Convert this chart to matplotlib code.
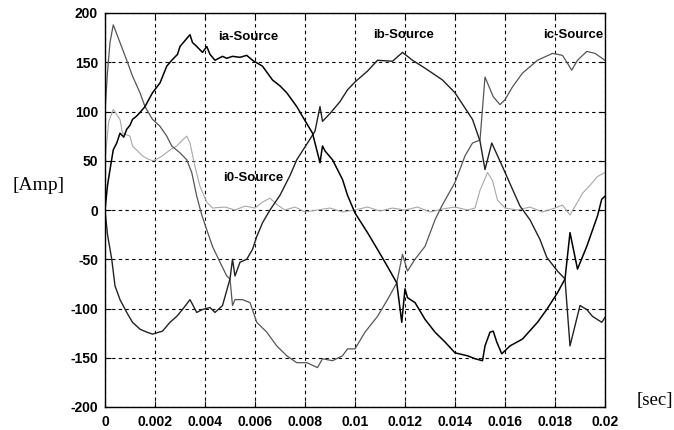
import matplotlib
matplotlib.use("Agg")
import matplotlib.pyplot as plt

plt.rcParams["axes.unicode_minus"] = False

# ---- data ----
t_ia = [0, 0.0001, 0.0002, 0.00033, 0.00047, 0.0006, 0.00075, 0.00087, 0.001, 0.0011, 0.00125, 0.0014, 0.0016,
        0.0019, 0.0022, 0.00247, 0.00267, 0.0029, 0.003, 0.0032, 0.0034, 0.0035, 0.00367, 0.0039, 0.00407,
        0.0042, 0.0044, 0.0047, 0.00487, 0.0051, 0.0054, 0.00567, 0.0059, 0.0063, 0.0067, 0.0070, 0.00727,
        0.00767, 0.0079, 0.0083, 0.0086, 0.0087, 0.0088, 0.0091, 0.0095, 0.0097, 0.0100, 0.0105, 0.0109,
        0.0112, 0.01167, 0.01187, 0.0120, 0.0121, 0.0124, 0.0128, 0.0132, 0.0136, 0.0140, 0.0145, 0.0148,
        0.0151, 0.0152, 0.0154, 0.01553, 0.01567, 0.01587, 0.0162, 0.0167, 0.0173, 0.01767, 0.0181, 0.0184,
        0.0186, 0.0189, 0.01927, 0.0197, 0.01987, 0.0200]
v_ia = [0, 25, 41, 61, 68, 78, 74, 82, 86, 92, 95, 99, 105,
        119, 129, 146, 152, 158, 166, 172, 178, 170, 166, 160, 166,
        158, 152, 156, 154, 156, 155, 157, 152, 146, 132, 126, 119,
        105, 95, 78, 48, 65, 60, 51, 31, 15, -3, -23, -40,
        -53, -74, -114, -80, -89, -94, -111, -124, -134, -145, -148, -151,
        -153, -138, -124, -123, -134, -146, -138, -131, -114, -101, -84, -70,
        -23, -60, -37, -6, 11, 14]

t_ib = [0, 0.0001, 0.00027, 0.0004, 0.0006, 0.00087, 0.0011, 0.0014, 0.00167, 0.0019, 0.0023, 0.0026,
        0.00287, 0.0031, 0.0034, 0.00367, 0.0039, 0.0042, 0.0044, 0.0047, 0.0050, 0.0051, 0.0052, 0.0054,
        0.00567, 0.0059, 0.00607, 0.0063, 0.0066, 0.0070, 0.0074, 0.00767, 0.0081, 0.0084, 0.0086, 0.0087,
        0.0090, 0.0094, 0.0097, 0.0100, 0.0105, 0.0109, 0.0115, 0.0119, 0.0123, 0.0128, 0.0135, 0.0140,
        0.0147, 0.0150, 0.0152, 0.01547, 0.0159, 0.0163, 0.0166, 0.0170, 0.0174, 0.01767, 0.0181, 0.0184,
        0.0186, 0.0190, 0.01927, 0.0195, 0.01987, 0.0200]
v_ib = [0, -25, -50, -77, -91, -104, -114, -121, -124, -126, -123, -114,
        -108, -101, -91, -104, -101, -99, -104, -97, -70, -50, -67, -53,
        -50, -40, -27, -13, 0, 15, 35, 51, 68, 80, 105, 90,
        98, 110, 122, 130, 141, 152, 151, 160, 152, 144, 132, 119,
        92, 70, 41, 68, 44, 21, 4, -10, -30, -48, -62, -70,
        -138, -97, -101, -108, -114, -109]

t_ic = [0, 0.0001, 0.0002, 0.00033, 0.0006, 0.00087, 0.0011, 0.0014, 0.0016, 0.0019, 0.0022, 0.00247,
        0.00267, 0.0030, 0.00327, 0.00347, 0.00367, 0.00387, 0.00407, 0.0043, 0.0046, 0.00487, 0.0050,
        0.0051, 0.0052, 0.0055, 0.0058, 0.00607, 0.00647, 0.00687, 0.00727, 0.00767, 0.00807, 0.0085,
        0.0087, 0.0091, 0.0095, 0.0097, 0.0100, 0.0104, 0.0109, 0.0113, 0.01167, 0.0119, 0.0121, 0.0124,
        0.0128, 0.0132, 0.01347, 0.0140, 0.0144, 0.0147, 0.0150, 0.0152, 0.01553, 0.0158, 0.0160, 0.0163,
        0.0167, 0.0173, 0.0179, 0.0183, 0.01867, 0.0189, 0.01927, 0.0196, 0.0200]
v_ic = [100, 140, 170, 188, 170, 152, 136, 119, 105, 92, 85, 75,
        65, 58, 51, 38, 14, -5, -20, -37, -53, -67, -70,
        -97, -91, -91, -94, -114, -124, -138, -148, -155, -155, -160,
        -151, -153, -148, -141, -141, -124, -108, -91, -74, -45, -62, -50,
        -37, -10, 4, 28, 55, 68, 71, 135, 115, 107, 112, 125,
        139, 152, 159, 157, 142, 152, 161, 159, 152]

t_i0 = [0, 0.00015, 0.00033, 0.0006, 0.0007, 0.0010, 0.0011, 0.0013, 0.0015, 0.0017, 0.0019, 0.0021,
        0.0023, 0.0026, 0.00287, 0.0031, 0.00327, 0.0034, 0.0036, 0.0038, 0.00407, 0.0043, 0.0048, 0.0052,
        0.0056, 0.0060, 0.0063, 0.0066, 0.0069, 0.0072, 0.0076, 0.0080, 0.0085, 0.0090, 0.0095, 0.0100,
        0.0105, 0.0110, 0.0115, 0.0120, 0.0125, 0.0130, 0.0135, 0.0140, 0.0145, 0.0148, 0.0150, 0.0153,
        0.0155, 0.0157, 0.0160, 0.0165, 0.0170, 0.0175, 0.0180, 0.0183, 0.0186, 0.0189, 0.0191, 0.0194,
        0.0197, 0.0200]
v_i0 = [50, 90, 102, 92, 78, 75, 65, 60, 55, 52, 50, 52,
        55, 61, 65, 71, 75, 68, 44, 24, 8, 2, 3, 0,
        4, 2, 8, 12, 5, 0, 3, -2, 0, 2, -2, 0,
        3, -1, 2, 0, 3, -2, 1, 3, 0, 2, 20, 38,
        30, 10, 2, 0, 3, -2, 2, 5, -5, 8, 17, 25,
        34, 38]

labels = ["ia-Source", "ib-Source", "ic-Source", "i0-Source"]
label_pos = [(0.00452, 176), (0.01072, 178), (0.01752, 178), (0.00472, 32)]

x_ticks = [0, 0.002, 0.004, 0.006, 0.008, 0.01, 0.012, 0.014, 0.016, 0.018, 0.02]
x_ticklabels = ["0", "0.002", "0.004", "0.006", "0.008", "0.01", "0.012", "0.014", "0.016", "0.018", "0.02"]
y_ticks = [-200, -150, -100, -50, 0, 50, 100, 150, 200]

# ---- figure ----
fig = plt.figure(figsize=(6.74, 4.30), dpi=100)
ax = fig.add_axes([105 / 674, 23 / 430, 500 / 674, 394 / 430])

ax.plot(t_i0, v_i0, color="#a8a8a8", lw=0.8)
ax.plot(t_ic, v_ic, color="#555555", lw=0.9)
ax.plot(t_ib, v_ib, color="#222222", lw=1.0)
ax.plot(t_ia, v_ia, color="#000000", lw=1.1)

ax.set_xlim(0, 0.02)
ax.set_ylim(-200, 200)
ax.set_xticks(x_ticks)
ax.set_xticklabels(x_ticklabels)
ax.set_yticks(y_ticks)
ax.set_yticklabels([str(v) for v in y_ticks])
ax.grid(True, color="black", linestyle=(0, (3, 3)), linewidth=0.8)
ax.tick_params(direction="in", length=4, top=True, right=True, width=0.8)
for lab in ax.get_xticklabels() + ax.get_yticklabels():
    lab.set_fontfamily("Liberation Sans")
    lab.set_fontweight("bold")
    lab.set_fontsize(10)
ax.tick_params(axis="x", pad=6)
ax.tick_params(axis="y", pad=5)
for s in ax.spines.values():
    s.set_linewidth(1.0)

for lab, (x, y) in zip(labels, label_pos):
    ax.text(x, y, lab, fontfamily="Liberation Sans", fontweight="bold", fontsize=9.5,
            ha="left", va="center", clip_on=True)

fig.text(39 / 674, 1 - 185 / 430, "[Amp]", fontfamily="Liberation Serif", fontsize=14,
         ha="center", va="center")
fig.text(655 / 674, 1 - 400 / 430, "[sec]", fontfamily="Liberation Serif", fontsize=13.5,
         ha="center", va="center")

fig.savefig("out.png", dpi=100)
